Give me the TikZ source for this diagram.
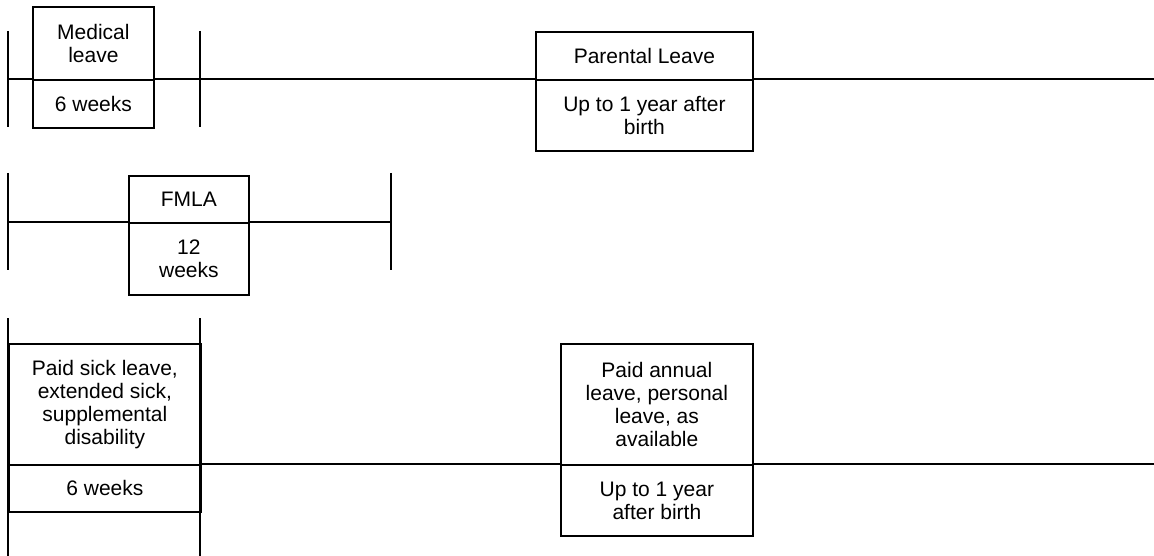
\documentclass[tikz,border=0pt]{standalone}
\usepackage{fontspec}
\setmainfont{Liberation Sans}
\begin{document}
\begin{tikzpicture}[x=1pt,y=-1pt,
  ln/.style={line width=1.8pt},
  bx/.style={draw,line width=1.8pt,inner sep=0pt,align=center,anchor=north west,
    font=\fontsize{21}{23}\selectfont}]
\useasboundingbox (0,0) rectangle (1154,556);
% row 1
\coordinate (a1) at (8,79); \coordinate (a2) at (1154,79);
\coordinate (t1a) at (8,31); \coordinate (t1b) at (8,127);
\coordinate (t2a) at (200,31); \coordinate (t2b) at (200,127);
\draw[ln] (a1) -- (a2);
\draw[ln] (t1a) -- (t1b);
\draw[ln] (t2a) -- (t2b);
\node[bx,fill=white,minimum width=121pt,minimum height=73pt] (med) at (32,6) {Medical\\leave};
\node[bx,minimum width=121pt,minimum height=48pt] (medw) at (32,79) {6 weeks};
\node[bx,fill=white,minimum width=217pt,minimum height=48pt] (par) at (535,31) {Parental Leave};
\node[bx,fill=white,minimum width=217pt,minimum height=71pt] (parw) at (535,79) {Up to 1 year after\\birth};
% row 2
\coordinate (b1) at (8,222); \coordinate (b2) at (391,222);
\coordinate (u1a) at (8,173); \coordinate (u1b) at (8,270);
\coordinate (u2a) at (391,173); \coordinate (u2b) at (391,270);
\draw[ln] (b1) -- (b2);
\draw[ln] (u1a) -- (u1b);
\draw[ln] (u2a) -- (u2b);
\node[bx,fill=white,minimum width=120pt,minimum height=47pt] (fmla) at (128,175) {FMLA};
\node[bx,fill=white,minimum width=120pt,minimum height=72pt] (fmlaw) at (128,222) {12\\weeks};
% row 3
\coordinate (v1a) at (8,318); \coordinate (v1b) at (8,556);
\coordinate (v2a) at (200,318); \coordinate (v2b) at (200,556);
\coordinate (c1) at (200,464); \coordinate (c2) at (1154,464);
\draw[ln] (v1a) -- (v1b);
\draw[ln] (v2a) -- (v2b);
\draw[ln] (c1) -- (c2);
\node[bx,minimum width=192pt,minimum height=121pt] (sick) at (8,343) {Paid sick leave,\\extended sick,\\supplemental\\disability};
\node[bx,minimum width=192pt,minimum height=47pt] (sickw) at (8,464) {6 weeks};
\node[bx,fill=white,minimum width=192pt,minimum height=121pt] (ann) at (560,343) {Paid annual\\leave, personal\\leave, as\\available};
\node[bx,fill=white,minimum width=192pt,minimum height=71pt] (annw) at (560,464) {Up to 1 year\\after birth};
\end{tikzpicture}
\end{document}
